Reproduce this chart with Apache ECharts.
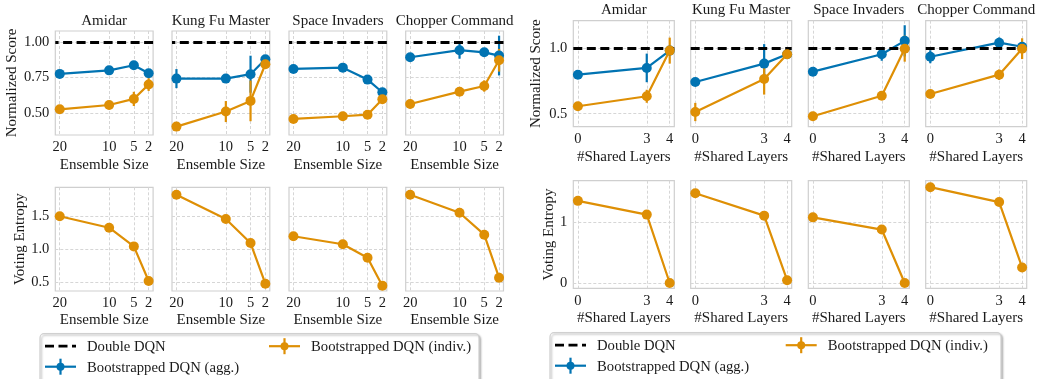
<!DOCTYPE html>
<html style="height: 100%">
<head>
  <meta charset="utf-8">
</head>
<body style="height: 100%; margin: 0; background: #fff">
  <div id="container" style="width: 1038px; height: 379px"></div>

  <script type="text/javascript" src="https://cdn.jsdelivr.net/npm/echarts@6/dist/echarts.min.js"></script>
  <script type="text/javascript">
    // ---- data ----
    const games = ['Amidar', 'Kung Fu Master', 'Space Invaders', 'Chopper Command'];
    const ensembleSizes = [20, 10, 5, 2];
    const sharedLayers = [0, 3, 4];
    const doubleDqn = 1.0;

    // ensemble size panel (one row per game)
    const ensAggScore = [
      [0.775, 0.80, 0.836, 0.78],
      [0.742, 0.742, 0.773, 0.878],
      [0.81, 0.819, 0.735, 0.646],
      [0.892, 0.942, 0.927, 0.904]
    ];
    const ensAggErr = [
      [0.015, 0.02, 0.03, 0.02],
      [0.067, 0.02, 0.13, 0.02],
      [0.01, 0.01, 0.01, 0.02],
      [0.03, 0.06, 0.02, 0.14]
    ];
    const ensIndScore = [
      [0.526, 0.556, 0.599, 0.70],
      [0.404, 0.51, 0.585, 0.843],
      [0.458, 0.477, 0.488, 0.596],
      [0.563, 0.65, 0.69, 0.871]
    ];
    const ensIndErr = [
      [0.03, 0.03, 0.05, 0.045],
      [0.01, 0.074, 0.143, 0.02],
      [0.01, 0.01, 0.01, 0.02],
      [0.03, 0.03, 0.04, 0.08]
    ];
    const ensEntropy = [
      [1.506, 1.333, 1.05, 0.526],
      [1.833, 1.465, 1.10, 0.485],
      [1.203, 1.082, 0.879, 0.455],
      [1.833, 1.56, 1.227, 0.576]
    ];

    // shared layers panel
    const layAggScore = [
      [0.80, 0.852, 0.985],
      [0.744, 0.885, 0.957],
      [0.823, 0.957, 1.06],
      [0.938, 1.046, 1.015]
    ];
    const layAggErr = [
      [0.02, 0.11, 0.02],
      [0.01, 0.15, 0.02],
      [0.01, 0.05, 0.12],
      [0.05, 0.04, 0.03]
    ];
    const layIndScore = [
      [0.557, 0.634, 0.985],
      [0.513, 0.767, 0.957],
      [0.48, 0.638, 1.0],
      [0.651, 0.80, 1.0]
    ];
    const layIndErr = [
      [0.02, 0.05, 0.1],
      [0.07, 0.12, 0.02],
      [0.01, 0.01, 0.1],
      [0.02, 0.04, 0.08]
    ];
    const layEntropy = [
      [1.35, 1.125, 0.005],
      [1.475, 1.108, 0.05],
      [1.08, 0.88, 0.005],
      [1.574, 1.33, 0.26]
    ];

    const ensScoreTicks = [0.5, 0.75, 1.0];
    const ensEntropyTicks = [0.5, 1.0, 1.5];
    const layScoreTicks = [0.5, 1.0];
    const layEntropyTicks = [0, 1];

    // ---- styling ----
    const FONT = "'Liberation Serif', 'DejaVu Serif', serif";
    const TXT = '#1a1a1a';
    const BLUE = '#0173b2';
    const ORANGE = '#de8f05';
    const GRIDLINE = '#d6d6d6';

    var myChart = echarts.init(document.getElementById('container'));

    const panels = [
      {
        lefts: [55.3, 172, 289, 405.7], width: 97.8,
        rows: [{ top: 31, height: 104 }, { top: 187.3, height: 103.7 }],
        xs: ensembleSizes, xMin: 1.1, xMax: 20.9, inverse: true, xName: 'Ensemble Size',
        score: [ensAggScore, ensAggErr, ensIndScore, ensIndErr], entropy: ensEntropy,
        yRanges: [[0.345, 1.077], [0.374, 1.945]],
        yTicks: [ensScoreTicks, ensEntropyTicks], yDigits: [2, 1],
        yNameGap: [36, 25], titleY: 21
      },
      {
        lefts: [573.3, 690.7, 808.3, 925.7], width: 101,
        rows: [{ top: 20.7, height: 106 }, { top: 180.7, height: 107.6 }],
        xs: sharedLayers, xMin: -0.2, xMax: 4.2, inverse: false, xName: '#Shared Layers',
        score: [layAggScore, layAggErr, layIndScore, layIndErr], entropy: layEntropy,
        yRanges: [[0.4, 1.215], [-0.082, 1.68]],
        yTicks: [layScoreTicks, layEntropyTicks], yDigits: [1, 0],
        yNameGap: [30, 15], titleY: 10
      }
    ];

    const grid = [], xAxis = [], yAxis = [], series = [], graphic = [];

    function errSeries(idx, pts, color) {
      return {
        type: 'custom', xAxisIndex: idx, yAxisIndex: idx, z: 3,
        renderItem: function (params, api) {
          const x = api.value(0), y = api.value(1), e = api.value(2);
          const a = api.coord([x, y - e]), b = api.coord([x, y + e]);
          return {
            type: 'line',
            shape: { x1: a[0], y1: a[1], x2: b[0], y2: b[1] },
            style: { stroke: color, lineWidth: 2.2 }
          };
        },
        encode: { x: 0, y: 1 },
        data: pts
      };
    }

    function lineSeries(idx, pts, color, z) {
      return {
        type: 'line', xAxisIndex: idx, yAxisIndex: idx, z: z,
        data: pts, symbol: 'circle', symbolSize: 10,
        lineStyle: { color: color, width: 2.2 },
        itemStyle: { color: color },
        animation: false
      };
    }

    panels.forEach(function (p) {
      p.rows.forEach(function (row, r) {
        for (let g = 0; g < 4; g++) {
          const idx = grid.length;
          grid.push({
            left: p.lefts[g], top: row.top, width: p.width, height: row.height,
            show: true, borderColor: '#cfcfcf', borderWidth: 1.2, backgroundColor: '#fff'
          });
          xAxis.push({
            type: 'value', gridIndex: idx, min: p.xMin, max: p.xMax, inverse: p.inverse,
            name: p.xName, nameLocation: 'middle', nameGap: r === 0 ? 23 : 22,
            nameTextStyle: { fontFamily: FONT, fontSize: 15, color: TXT },
            axisLine: { show: false },
            axisTick: { show: false, customValues: p.xs },
            axisLabel: { customValues: p.xs, fontFamily: FONT, fontSize: 14.5, color: TXT, margin: 5 },
            splitLine: { show: true, lineStyle: { color: GRIDLINE, type: [3, 2], width: 1 } }
          });
          const ticks = p.yTicks[r], digits = p.yDigits[r];
          yAxis.push({
            type: 'value', gridIndex: idx, min: p.yRanges[r][0], max: p.yRanges[r][1],
            name: g === 0 ? (r === 0 ? 'Normalized Score' : 'Voting Entropy') : '',
            nameLocation: 'middle', nameGap: p.yNameGap[r],
            nameTextStyle: { fontFamily: FONT, fontSize: 15, color: TXT },
            axisLine: { show: false },
            axisTick: { show: false, customValues: ticks },
            axisLabel: {
              show: g === 0, customValues: ticks, fontFamily: FONT, fontSize: 14.5, color: TXT, margin: 6,
              formatter: function (v) { return v.toFixed(digits); }
            },
            splitLine: { show: true, lineStyle: { color: GRIDLINE, type: [3, 2], width: 1 } }
          });

          if (r === 0) {
            const agg = p.xs.map(function (x, i) { return [x, p.score[0][g][i], p.score[1][g][i]]; });
            const ind = p.xs.map(function (x, i) { return [x, p.score[2][g][i], p.score[3][g][i]]; });
            series.push({
              type: 'line', xAxisIndex: idx, yAxisIndex: idx, data: [], z: 1,
              markLine: {
                silent: true, symbol: 'none', animation: false,
                label: { show: false },
                lineStyle: { color: '#000', width: 2.8, type: [9, 4.5] },
                data: [{ yAxis: doubleDqn }]
              }
            });
            series.push(errSeries(idx, agg, BLUE));
            series.push(lineSeries(idx, agg, BLUE, 4));
            series.push(errSeries(idx, ind, ORANGE));
            series.push(lineSeries(idx, ind, ORANGE, 5));

            graphic.push({
              type: 'text', x: p.lefts[g] + p.width / 2, y: p.titleY,
              style: { text: games[g], font: '15px ' + FONT, fill: TXT, align: 'center', verticalAlign: 'middle' }
            });
          } else {
            const ent = p.xs.map(function (x, i) { return [x, p.entropy[g][i]]; });
            series.push(lineSeries(idx, ent, ORANGE, 5));
          }
        }
      });
    });

    // legends (one under each panel)
    function legendBox(x0, y0, w, col2) {
      const font = '14.7px ' + FONT;
      const r1 = y0 + 12.5, r2 = y0 + 33;
      const children = [
        { type: 'rect', shape: { x: x0, y: y0, width: w, height: 60, r: 4 },
          style: { fill: '#fff', stroke: '#d0d0d0', lineWidth: 1.2,
                   shadowColor: 'rgba(0,0,0,0.25)', shadowBlur: 2, shadowOffsetX: 1.5, shadowOffsetY: 1.5 } },
        { type: 'line', shape: { x1: x0 + 5, y1: r1, x2: x0 + 36, y2: r1 },
          style: { stroke: '#000', lineWidth: 2.8, lineDash: [9, 4.5] } },
        { type: 'text', x: x0 + 47, y: r1 + 1, style: { text: 'Double DQN', font: font, fill: TXT, verticalAlign: 'middle' } },
        { type: 'line', shape: { x1: x0 + 5, y1: r2, x2: x0 + 36, y2: r2 }, style: { stroke: BLUE, lineWidth: 2.2 } },
        { type: 'line', shape: { x1: x0 + 20.5, y1: r2 - 8, x2: x0 + 20.5, y2: r2 + 8 }, style: { stroke: BLUE, lineWidth: 2.2 } },
        { type: 'circle', shape: { cx: x0 + 20.5, cy: r2, r: 4 }, style: { fill: BLUE } },
        { type: 'text', x: x0 + 47, y: r2 + 1, style: { text: 'Bootstrapped DQN (agg.)', font: font, fill: TXT, verticalAlign: 'middle' } },
        { type: 'line', shape: { x1: col2, y1: r1, x2: col2 + 31, y2: r1 }, style: { stroke: ORANGE, lineWidth: 2.2 } },
        { type: 'line', shape: { x1: col2 + 15.5, y1: r1 - 8, x2: col2 + 15.5, y2: r1 + 8 }, style: { stroke: ORANGE, lineWidth: 2.2 } },
        { type: 'circle', shape: { cx: col2 + 15.5, cy: r1, r: 4 }, style: { fill: ORANGE } },
        { type: 'text', x: col2 + 42, y: r1 + 1, style: { text: 'Bootstrapped DQN (indiv.)', font: font, fill: TXT, verticalAlign: 'middle' } }
      ];
      return { type: 'group', children: children };
    }
    graphic.push(legendBox(40, 333.7, 439, 269));
    graphic.push(legendBox(550, 332.7, 451, 785.7));

    const option = {
      backgroundColor: '#fff',
      animation: false,
      grid: grid,
      xAxis: xAxis,
      yAxis: yAxis,
      series: series,
      graphic: graphic
    };

    myChart.setOption(option);
    window.addEventListener('resize', myChart.resize);
  </script>
</body>
</html>
